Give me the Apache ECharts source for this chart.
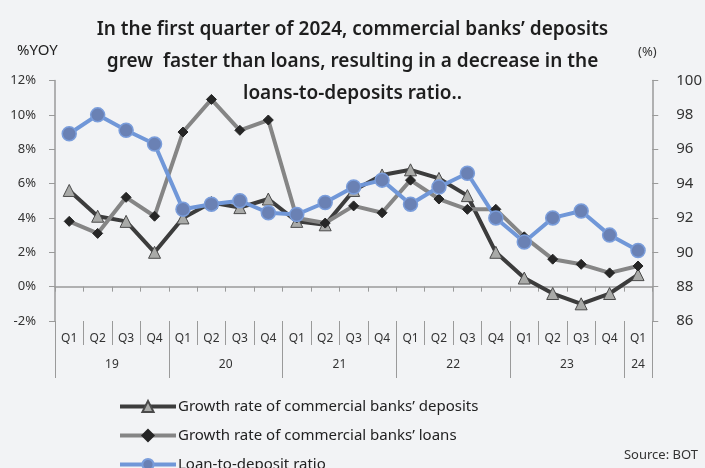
<!DOCTYPE html>
<html>
<head>
<meta charset="utf-8">
<script src="https://cdn.jsdelivr.net/npm/echarts@6/dist/echarts.min.js"></script>
<style>
  html, body { margin: 0; padding: 0; background: #f2f3f5; }
  #chart { width: 705px; height: 468px; }
</style>
</head>
<body>
<div id="chart"></div>
<script>
// Quarterly data, Q1 2019 – Q1 2024
const quarterLabels = ['Q1','Q2','Q3','Q4','Q1','Q2','Q3','Q4','Q1','Q2','Q3','Q4',
                       'Q1','Q2','Q3','Q4','Q1','Q2','Q3','Q4','Q1'];
const yearLabels = ['19', '20', '21', '22', '23', '24'];
const quartersPerYear = [4, 4, 4, 4, 4, 1];

// Growth rate of commercial banks' deposits (%YOY)
const depositGrowth = [5.6, 4.1, 3.8, 2.0, 4.0, 4.9, 4.6, 5.1, 3.8, 3.6, 5.6, 6.5,
                       6.8, 6.3, 5.3, 2.0, 0.5, -0.4, -1.0, -0.4, 0.7];
// Growth rate of commercial banks' loans (%YOY)
const loanGrowth = [3.8, 3.1, 5.2, 4.1, 9.0, 10.9, 9.1, 9.7, 4.0, 3.7, 4.7, 4.3,
                    6.2, 5.1, 4.5, 4.5, 2.9, 1.6, 1.3, 0.8, 1.2];
// Loan-to-deposit ratio (%)
const ldrRatio = [96.9, 98.0, 97.1, 96.3, 92.5, 92.8, 93.0, 92.3, 92.2, 92.9, 93.8, 94.2,
                  92.8, 93.8, 94.6, 92.0, 90.6, 92.0, 92.4, 91.0, 90.1];

const seriesNames = [
  'Growth rate of commercial banks\u2019 deposits',
  'Growth rate of commercial banks\u2019 loans',
  'Loan-to-deposit ratio'
];

// Year row: half-quarter slots, year names centred in their span
const yearSlots = new Array(quarterLabels.length * 2 + 1).fill('');
const yearBounds = new Set();
let start = 0;
quartersPerYear.forEach((n, k) => {
  yearBounds.add(start * 2);
  yearSlots[start * 2 + n] = yearLabels[k];
  start += n;
});
yearBounds.add(start * 2);

const FONT = '"Noto Sans", "Open Sans", sans-serif';
const AXIS_GREY = '#9a9a9a';

const chart = echarts.init(document.getElementById('chart'), null, { renderer: 'canvas' });

chart.setOption({
  backgroundColor: '#f2f3f5',
  animation: false,
  textStyle: { fontFamily: FONT },
  title: [
    {
      text: 'In the first quarter of 2024, commercial banks\u2019 deposits\ngrew  faster than loans, resulting in a decrease in the\nloans-to-deposits ratio..',
      left: 'center',
      top: 9,
      textStyle: { fontFamily: FONT, fontSize: 19, fontWeight: 600, color: '#1e1e1e', lineHeight: 32 }
    },
    {
      text: '%YOY',
      left: 12, top: 38,
      textStyle: { fontFamily: FONT, fontSize: 15, fontWeight: 'normal', color: '#222' }
    },
    {
      text: '(%)',
      left: 633, top: 41,
      textStyle: { fontFamily: FONT, fontSize: 13, fontWeight: 'normal', color: '#333' }
    },
    {
      text: 'Source: BOT',
      right: 2, top: 444,
      textStyle: { fontFamily: FONT, fontSize: 13, fontWeight: 'normal', color: '#333' }
    }
  ],
  legend: {
    orient: 'vertical',
    left: 118,
    top: 399,
    height: 100,
    padding: 0,
    itemWidth: 56,
    itemHeight: 14,
    itemGap: 14,
    lineStyle: { width: 4 },
    textStyle: { fontFamily: FONT, fontSize: 15, color: '#222', padding: [0, 0, 0, -3] },
    data: seriesNames
  },
  grid: { left: 55, right: 50.5, top: 80.5, bottom: 147, containLabel: false },
  xAxis: [
    {
      // zero line with quarter ticks
      type: 'category',
      data: quarterLabels,
      boundaryGap: true,
      axisLine: { onZero: true, lineStyle: { color: AXIS_GREY, width: 1.5 } },
      axisTick: { show: true, length: 5, lineStyle: { color: AXIS_GREY } },
      axisLabel: { show: false },
      splitLine: { show: false }
    },
    {
      // quarter labels row
      type: 'category',
      data: quarterLabels,
      position: 'bottom',
      boundaryGap: true,
      axisLine: { show: false, onZero: false },
      axisTick: { show: true, length: 24, lineStyle: { color: AXIS_GREY } },
      axisLabel: { interval: 0, margin: 12, fontSize: 12, color: '#333', fontFamily: FONT },
      splitLine: { show: false }
    },
    {
      // year labels row
      type: 'category',
      data: yearSlots,
      position: 'bottom',
      boundaryGap: false,
      axisLine: { show: false, onZero: false },
      axisTick: {
        show: true, length: 57,
        interval: (i) => yearBounds.has(i),
        lineStyle: { color: AXIS_GREY }
      },
      axisLabel: {
        interval: (i, v) => v !== '',
        margin: 38, fontSize: 12, color: '#333', fontFamily: FONT
      },
      splitLine: { show: false }
    }
  ],
  yAxis: [
    {
      type: 'value',
      min: -2, max: 12, interval: 2,
      position: 'left',
      axisLine: { show: true, lineStyle: { color: AXIS_GREY, width: 1.5 } },
      axisTick: { show: true, length: 6, lineStyle: { color: AXIS_GREY } },
      axisLabel: { formatter: '{value}%', margin: 19, fontSize: 13, color: '#333', fontFamily: FONT },
      splitLine: { show: false }
    },
    {
      type: 'value',
      min: 86, max: 100, interval: 2,
      position: 'right',
      axisLine: { show: true, lineStyle: { color: AXIS_GREY, width: 1.5 } },
      axisTick: { show: true, length: 6, lineStyle: { color: AXIS_GREY } },
      axisLabel: { margin: 24, fontSize: 15, color: '#333', fontFamily: FONT },
      splitLine: { show: false }
    }
  ],
  series: [
    {
      name: seriesNames[0],
      type: 'line',
      xAxisIndex: 0, yAxisIndex: 0,
      data: depositGrowth,
      symbol: 'triangle',
      symbolSize: 12,
      lineStyle: { color: '#3c3c3c', width: 4 },
      itemStyle: { color: '#a9aaa8', borderColor: '#4a4a4a', borderWidth: 1 }
    },
    {
      name: seriesNames[1],
      type: 'line',
      xAxisIndex: 0, yAxisIndex: 0,
      data: loanGrowth,
      symbol: 'diamond',
      symbolSize: 10,
      lineStyle: { color: '#858585', width: 4 },
      itemStyle: { color: '#262626', borderColor: '#262626', borderWidth: 1 }
    },
    {
      name: seriesNames[2],
      type: 'line',
      xAxisIndex: 0, yAxisIndex: 1,
      data: ldrRatio,
      symbol: 'circle',
      symbolSize: 14,
      lineStyle: { color: '#7097d8', width: 4 },
      itemStyle: { color: '#6a81b4', borderColor: '#7a9ddb', borderWidth: 1.5 }
    }
  ]
});
</script>
</body>
</html>
